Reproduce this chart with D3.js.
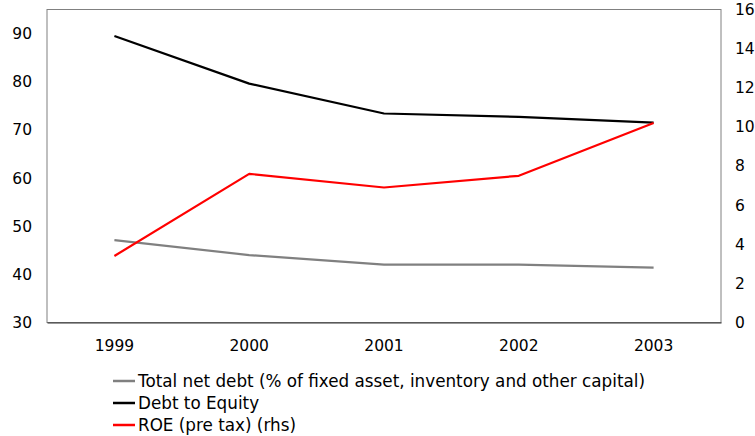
<!DOCTYPE html>
<html>
<head>
<meta charset="utf-8">
<script src="https://cdn.jsdelivr.net/npm/d3@7/dist/d3.min.js"></script>
<style>
  html, body { margin: 0; padding: 0; background: #fff; }
  svg { display: block; }
  text { font-family: "DejaVu Sans", Verdana, sans-serif; fill: #000; }
</style>
</head>
<body>
<svg id="chart" width="755" height="436"></svg>
<script>
// Years on the category axis
const years = ["1999", "2000", "2001", "2002", "2003"];

// Left-hand axis series (%)
const totalNetDebt = [47.1, 44.0, 42.0, 42.0, 41.4];
const debtToEquity = [89.5, 79.6, 73.4, 72.7, 71.5];

// Right-hand axis series (%)
const roePreTax = [3.4, 7.6, 6.9, 7.5, 10.2];

// Tick labels
const leftTicks = [30, 40, 50, 60, 70, 80, 90];
const rightTicks = [0, 2, 4, 6, 8, 10, 12, 14, 16];

const legendItems = [
  { label: "Total net debt (% of fixed asset, inventory and other capital)", color: "#808080", values: totalNetDebt, axis: "left" },
  { label: "Debt to Equity", color: "#000000", values: debtToEquity, axis: "left" },
  { label: "ROE (pre tax) (rhs)", color: "#ff0000", values: roePreTax, axis: "right" }
];

const svg = d3.select("#chart");
const plot = { left: 47, right: 721, top: 9.5, bottom: 322.5 };

const x = d3.scaleBand().domain(years).range([plot.left, plot.right]);
const yLeft = d3.scaleLinear().domain([30, 95]).range([plot.bottom, plot.top]);
const yRight = d3.scaleLinear().domain([0, 16]).range([plot.bottom, plot.top]);

// Plot frame
svg.append("rect")
  .attr("x", plot.left).attr("y", plot.top)
  .attr("width", plot.right - plot.left).attr("height", plot.bottom - plot.top)
  .attr("fill", "none").attr("stroke", "#808080").attr("stroke-width", 1);

const tickFont = g => g.selectAll("text")
  .style("font-family", '"DejaVu Sans", sans-serif')
  .style("font-size", "15.5px")
  .attr("fill", "#000");

// Left axis labels
const gL = svg.append("g").attr("transform", `translate(${plot.left},0)`)
  .call(d3.axisLeft(yLeft).tickValues(leftTicks).tickSize(0).tickPadding(15));
gL.select(".domain").remove();
tickFont(gL);

// Right axis labels
const gR = svg.append("g").attr("transform", `translate(${plot.right},0)`)
  .call(d3.axisRight(yRight).tickValues(rightTicks).tickSize(0).tickPadding(14));
gR.select(".domain").remove();
tickFont(gR);

// Category axis
const gB = svg.append("g").attr("transform", `translate(0,${plot.bottom})`)
  .call(d3.axisBottom(x).tickSize(0).tickPadding(17));
gB.select(".domain").attr("stroke", "#333").attr("stroke-width", 1.2);
tickFont(gB);

// Series lines
legendItems.forEach(s => {
  const yScale = s.axis === "left" ? yLeft : yRight;
  const line = d3.line()
    .x((d, i) => x(years[i]) + x.bandwidth() / 2)
    .y(d => yScale(d));
  svg.append("path")
    .datum(s.values)
    .attr("d", line)
    .attr("fill", "none")
    .attr("stroke", s.color)
    .attr("stroke-width", 2.2)
    .attr("stroke-linejoin", "round");
});

// Legend
const legend = svg.append("g").attr("transform", "translate(113,381)");
legendItems.forEach((s, i) => {
  const row = legend.append("g").attr("transform", `translate(0,${i * 22})`);
  row.append("line")
    .attr("x1", 0).attr("x2", 22).attr("y1", 0).attr("y2", 0)
    .attr("stroke", s.color).attr("stroke-width", 2.5);
  row.append("text")
    .attr("x", 25).attr("y", 0)
    .attr("dominant-baseline", "central")
    .style("font-size", "16.8px")
    .text(s.label);
});
</script>
</body>
</html>
